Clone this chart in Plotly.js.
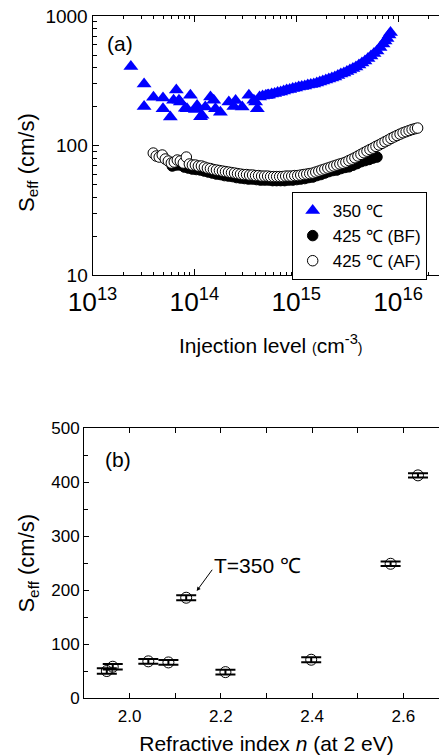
<!DOCTYPE html>
<html>
<head>
<meta charset="utf-8">
<script src="https://cdn.plot.ly/plotly-3.0.1.min.js"></script>
<style>
html,body{margin:0;padding:0;overflow:hidden;background:#fff;}
#chart{width:460px;height:755px;}
</style>
</head>
<body>
<div id="chart"></div>
<script>
// ---- Panel (a): S_eff vs injection level ----
var inj350 = [2.38e13,3.21e13,3.21e13,3.97e13,4.92e13,4.92e13,5.81e13,6.25e13,6.65e13,7.06e13,7.28e13,8.15e13,8.47e13,9.14e13,1.024e14,1.064e14,1.15e14,1.19e14,1.28e14,1.44e14,1.55e14,1.61e14,1.80e14,2.18e14,2.44e14,2.54e14,2.95e14,3.43e14,3.84e14,3.99e14,4.15e14,5.20e14,
  4.37e14,4.68e14,5.01e14,5.36e14,5.74e14,6.14e14,6.57e14,7.04e14,7.53e14,8.06e14,8.63e14,9.24e14,9.89e14,1.058e15,1.133e15,1.213e15,1.298e15,1.390e15,1.487e15,1.592e15,1.704e15,1.824e15,1.953e15,2.090e15,2.238e15,2.395e15,2.564e15,2.744e15,2.938e15,3.145e15,3.366e15,3.603e15,3.857e15,4.129e15,4.419e15,4.731e15,5.064e15,5.42e15,5.80e15,6.21e15,6.65e15,7.12e15,7.45e15,7.79e15,8.15e15,8.43e15];
var s350 = [408,299,200,236,233,192,166,224,268,224,217,194,192,244,190,204,167,171,198,237,224,192,181,217,200,223,198,244,224,217,192,244,
  237,241,243,246,250,252,257,259,264,268,271,276,278,283,286,288,293,296,299,304,309,315,321,326,332,338,347,357,363,373,383,393,404,418,434,449,470,491,513,537,571,608,641,671,713,746];

var injBF = [6.07e13,6.65e13,7.28e13,7.97e13,8.73e13,9.56e13,1.046e14,1.146e14,1.254e14,1.374e14,1.504e14,1.647e14,1.804e14,1.975e14,2.163e14,2.368e14,2.594e14,2.840e14,3.109e14,3.404e14,3.729e14,4.082e14,4.470e14,4.895e14,5.36e14,5.87e14,6.426e14,7.036e14,7.70e14,8.436e14,9.24e14,1.011e15,1.107e15,1.213e15,1.328e15,1.454e15,1.592e15,1.744e15,1.909e15,2.09e15,2.288e15,2.506e15,2.744e15,3.005e15,3.29e15,3.603e15,3.946e15,4.32e15,4.73e15,5.18e15,5.67e15,6.21e15];
var sBF = [69.5,70.7,70.7,68.2,67.0,65.8,65.3,64.7,63.5,62.4,61.3,60.2,59.7,58.6,58.1,57.6,56.6,56.1,55.6,55.1,55.1,54.6,54.1,54.1,54.1,53.6,53.6,53.6,53.6,54.1,54.1,54.6,55.1,55.6,56.6,57.1,58.6,59.7,61.3,62.9,64.1,64.7,66.4,67.7,68.5,70.5,72.5,75.0,76.5,78.0,80.0,81.5];

var injAF = [3.95e13,4.22e13,4.52e13,4.84e13,5.18e13,5.55e13,5.94e13,6.35e13,6.80e13,7.28e13,7.79e13,8.34e13,8.93e13,9.56e13,1.023e14,1.095e14,1.172e14,1.254e14,1.343e14,1.438e14,1.539e14,1.647e14,1.764e14,1.888e14,2.021e14,2.163e14,2.315e14,2.479e14,2.653e14,2.840e14,3.040e14,3.254e14,3.484e14,3.729e14,3.991e14,4.272e14,4.573e14,4.895e14,5.240e14,5.609e14,6.003e14,6.426e14,6.878e14,7.362e14,7.881e14,8.436e14,9.030e14,9.666e14,1.035e15,1.107e15,1.186e15,1.269e15,1.358e15,1.454e15,1.556e15,1.666e15,1.783e15,1.909e15,2.043e15,2.187e15,2.341e15,2.506e15,2.683e15,2.872e15,3.074e15,3.290e15,3.522e15,3.770e15,4.036e15,4.320e15,4.624e15,4.950e15,5.298e15,5.671e15,6.071e15,6.498e15,6.956e15,7.446e15,7.970e15,8.531e15,9.133e15,9.775e15,1.046e16,1.120e16,1.199e16,1.283e16,1.374e16,1.471e16,1.556e16];
var sAF = [87.5,83.0,81.5,84.5,78.7,75.9,73.3,74.6,77.3,75.9,73.3,81.5,72.0,70.7,70.7,69.5,69.5,68.2,67.0,66.4,65.3,64.7,64.1,63.5,62.9,62.4,61.8,61.3,60.7,60.2,59.7,59.7,59.2,59.2,58.6,58.6,58.1,58.1,58.1,57.6,57.6,57.6,57.6,57.6,58.1,58.1,58.1,58.6,58.6,59.2,59.7,60.2,60.7,61.3,62.4,63.5,64.7,65.8,67.0,68.2,69.5,70.7,72.0,73.0,74.5,76.5,78.5,80.5,83.0,85.5,88.0,90.5,93.0,95.5,98.5,101,104,107,110,113.5,116.5,119.5,122.5,125.5,128,130.5,133,135,136.5];

var legendNames = ['350 \u2103', '425 \u2103 (BF)', '425 \u2103 (AF)'];

// ---- Panel (b): S_eff vs refractive index ----
var nIndex = [1.950,1.963,2.041,2.085,2.124,2.210,2.398,2.572,2.632];
var sIndex = [50,58,68,66,186,48,71,249,413];
var sErr   = [5,5,4.5,4.5,4.5,4.5,4.5,4,4];

var FONT = 'Liberation Sans, Arial, Helvetica, sans-serif';

var traces = [
  {x: inj350, y: s350, type:'scatter', mode:'markers', name: legendNames[0], xaxis:'x', yaxis:'y',
   marker:{symbol:'triangle-up', size:13, color:'#0000ff', line:{width:0}}},
  {x: injBF, y: sBF, type:'scatter', mode:'markers', name: legendNames[1], xaxis:'x', yaxis:'y',
   marker:{symbol:'circle', size:10.5, color:'#000000', line:{width:1, color:'#000'}}},
  {x: injAF, y: sAF, type:'scatter', mode:'markers', name: legendNames[2], xaxis:'x', yaxis:'y',
   marker:{symbol:'circle', size:10.5, color:'#ffffff', line:{width:1, color:'#000'}}},
  {x: nIndex, y: sIndex, type:'scatter', mode:'markers', showlegend:false, xaxis:'x2', yaxis:'y2',
   marker:{symbol:'circle-open', size:11, color:'#000', line:{width:1, color:'#000'}},
   error_y:{type:'data', array:sErr, visible:true, color:'#000', thickness:2, width:10}}
];

var axCommon = {showline:true, linecolor:'#000', linewidth:1, mirror:'ticks', ticks:'inside',
  tickcolor:'#000', showgrid:false, zeroline:false};

var layout = {
  width:460, height:755,
  margin:{l:84, r:11, t:16, b:57.3},
  paper_bgcolor:'#fff', plot_bgcolor:'#fff',
  font:{family:FONT, color:'#000'},
  showlegend:true,
  legend:{x:0.569, y:0.742, xanchor:'left', yanchor:'top', bordercolor:'#000', borderwidth:1,
    bgcolor:'#fff', font:{size:17, family:FONT}, itemwidth:30, tracegroupgap:0},
  xaxis: Object.assign({}, axCommon, {type:'log', range:[13,16.5], domain:[0.0233,1], anchor:'y',
    dtick:1, exponentformat:'power', ticklen:6, tickfont:{size:21}, ticklabelstandoff:4,
    minor:{ticks:'inside', ticklen:3, dtick:'D1', tickcolor:'#000', showgrid:false},
    title:{text:'Injection level <span style="font-size:14px">(</span>cm<sup>-3</sup><span style="font-size:14px">)</span>', font:{size:21}, standoff:22}}),
  yaxis: Object.assign({}, axCommon, {type:'log', range:[1,3], domain:[0.6201,1], anchor:'x',
    dtick:1, exponentformat:'none', ticklen:6, tickfont:{size:19},
    minor:{ticks:'inside', ticklen:4, dtick:'D1', tickcolor:'#000', showgrid:false}}),
  xaxis2: Object.assign({}, axCommon, {range:[1.9,2.7], domain:[0,1], anchor:'y2',
    tickvals:[2.0,2.2,2.4,2.6], ticktext:['2.0','2.2','2.4','2.6'], ticklen:5, tickfont:{size:17}, ticklabelstandoff:3,
    minor:{tickvals:[2.1,2.3,2.5], ticks:'inside', ticklen:5, tickcolor:'#000', showgrid:false},
    title:{text:'Refractive index <i>n</i> (at 2 eV)', font:{size:21}, standoff:14}}),
  yaxis2: Object.assign({}, axCommon, {range:[0,500], domain:[0,0.3952], anchor:'x2',
    dtick:100, ticklen:5, tickfont:{size:17},
    minor:{dtick:50, ticks:'inside', ticklen:4, tickcolor:'#000', showgrid:false},
    title:{text:'S<sub>eff</sub> (cm/s)', font:{size:22}, standoff:10}}),
  annotations:[
    {xref:'paper', yref:'paper', x:-0.155, y:(697.7-162.5)/681.7, text:'S<sub>eff</sub> (cm/s)', textangle:-90,
     showarrow:false, font:{size:22}, xanchor:'center', yanchor:'middle'},
    {xref:'paper', yref:'paper', x:(120-84)/365, y:(697.7-43.5)/681.7, text:'(a)', showarrow:false,
     font:{size:21}, xanchor:'center', yanchor:'middle'},
    {xref:'paper', yref:'paper', x:(117.5-84)/365, y:(697.7-459)/681.7, text:'(b)', showarrow:false,
     font:{size:21}, xanchor:'center', yanchor:'middle'},
    {xref:'x2', yref:'y2', x:2.1805, y:245, text:'T=350 \u2103', showarrow:false, font:{size:21},
     xanchor:'left', yanchor:'middle'},
    {xref:'x2', yref:'y2', axref:'x2', ayref:'y2', x:2.147, y:198.6, ax:2.1834, ay:240.7, text:'',
     showarrow:true, arrowhead:2, arrowsize:0.8, arrowwidth:1, arrowcolor:'#000', standoff:0}
  ]
};

Plotly.newPlot('chart', traces, layout, {displayModeBar:false, staticPlot:true});
</script>
</body>
</html>
